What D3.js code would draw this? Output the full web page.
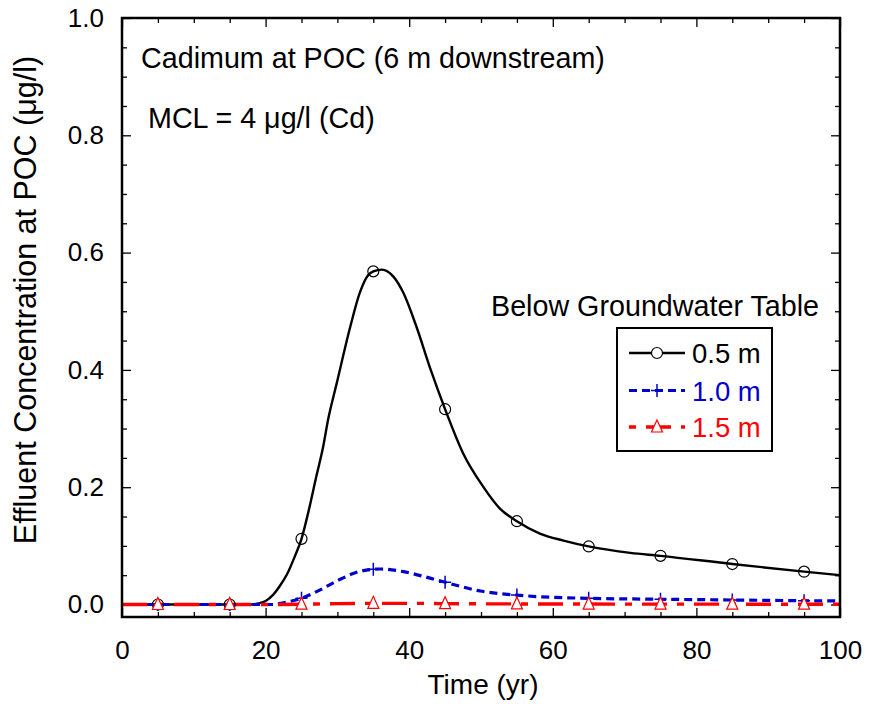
<!DOCTYPE html>
<html>
<head>
<meta charset="utf-8">
<script src="https://cdn.jsdelivr.net/npm/d3@7"></script>
<style>
  body { margin: 0; background: #fff; }
  svg text { font-family: "Liberation Sans", Arial, sans-serif; }
</style>
</head>
<body>
<svg width="869" height="706"></svg>
<script>
// curves (time in yr, concentration in ug/l)
var timeBlack = [0, 18, 19, 20, 21, 22, 23, 24, 25, 26, 27, 28, 28.7, 29.9, 31.8, 33.1, 34.3, 35, 36.2, 37.8, 39.2, 41, 43, 45, 47.5, 50.3, 52.6, 55, 58.2, 61.5, 65, 70.8, 75, 85, 95, 100];
var concBlack = [0, 0, 0.002, 0.006, 0.016, 0.032, 0.052, 0.08, 0.112, 0.16, 0.215, 0.268, 0.315, 0.377, 0.474, 0.531, 0.562, 0.568, 0.571, 0.559, 0.531, 0.474, 0.40, 0.333, 0.258, 0.201, 0.164, 0.142, 0.121, 0.109, 0.099, 0.088, 0.083, 0.069, 0.056, 0.050];

var timeBlue = [0, 21, 22.5, 25, 27.1, 30.4, 32.2, 35, 36, 39.2, 42.9, 45, 49.9, 55, 65, 75, 85, 95, 100];
var concBlue = [0, 0, 0.003, 0.0106, 0.022, 0.043, 0.053, 0.060, 0.0605, 0.056, 0.045, 0.038, 0.023, 0.016, 0.0105, 0.009, 0.0077, 0.0065, 0.006];

var timeRed = [0, 20, 25, 30, 35, 40, 45, 55, 70, 100];
var concRed = [0, 0, 0.0005, 0.0015, 0.002, 0.002, 0.0015, 0.001, 0.0007, 0.0005];

// marker points
var markTime = [5, 15, 25, 35, 45, 55, 65, 75, 85, 95];
var markBlack = [0, 0, 0.112, 0.568, 0.333, 0.142, 0.099, 0.083, 0.069, 0.056];
var markBlue = [0, 0, 0.0106, 0.060, 0.038, 0.016, 0.0105, 0.009, 0.0077, 0.0065];
var markRed = [0, 0, 0.0005, 0.002, 0.0015, 0.001, 0.0008, 0.0007, 0.0006, 0.0005];

var seriesNames = ["0.5 m", "1.0 m", "1.5 m"];
var xTicks = [0, 20, 40, 60, 80, 100];
var yTicks = [0, 0.2, 0.4, 0.6, 0.8, 1.0];

var svg = d3.select("svg");
var mLeft = 122, mRight = 840, mTop = 18, mBottom = 617;

var x = d3.scaleLinear().domain([0, 100]).range([mLeft, mRight]);
var y = d3.scaleLinear().domain([-0.0213, 1]).range([mBottom, mTop]);

var minorX = d3.range(0, 101, 5).filter(function(d) { return d % 20 != 0; });
var minorY = d3.range(0, 1.001, 0.05).filter(function(d) { return Math.abs(d * 5 - Math.round(d * 5)) > 1e-6; });

function styleAxis(g) {
  g.select(".domain").remove();
  g.selectAll(".tick line").attr("stroke", "#000").attr("stroke-width", 1.3);
  g.selectAll("text").attr("font-size", 26).attr("fill", "#000")
    .attr("font-family", "Liberation Sans, Arial, sans-serif");
}

// bottom
svg.append("g").attr("transform", "translate(0," + mBottom + ")")
  .call(d3.axisBottom(x).tickValues(xTicks).tickSize(-9).tickPadding(24).tickFormat(d3.format("d")))
  .call(styleAxis);
svg.append("g").attr("transform", "translate(0," + mBottom + ")")
  .call(d3.axisBottom(x).tickValues(minorX).tickSize(-5).tickFormat(""))
  .call(styleAxis);
// top
svg.append("g").attr("transform", "translate(0," + mTop + ")")
  .call(d3.axisTop(x).tickValues(xTicks).tickSize(-9).tickFormat(""))
  .call(styleAxis);
svg.append("g").attr("transform", "translate(0," + mTop + ")")
  .call(d3.axisTop(x).tickValues(minorX).tickSize(-5).tickFormat(""))
  .call(styleAxis);
// left
svg.append("g").attr("transform", "translate(" + mLeft + ",0)")
  .call(d3.axisLeft(y).tickValues(yTicks).tickSize(-9).tickPadding(18).tickFormat(d3.format(".1f")))
  .call(styleAxis);
svg.append("g").attr("transform", "translate(" + mLeft + ",0)")
  .call(d3.axisLeft(y).tickValues(minorY).tickSize(-5).tickFormat(""))
  .call(styleAxis);
// right
svg.append("g").attr("transform", "translate(" + mRight + ",0)")
  .call(d3.axisRight(y).tickValues(yTicks).tickSize(-9).tickFormat(""))
  .call(styleAxis);
svg.append("g").attr("transform", "translate(" + mRight + ",0)")
  .call(d3.axisRight(y).tickValues(minorY).tickSize(-5).tickFormat(""))
  .call(styleAxis);

var plot = svg.append("g");

var line = d3.line()
  .x(function(d) { return x(d[0]); })
  .y(function(d) { return y(d[1]); })
  .curve(d3.curveMonotoneX);

var series = [
  { t: timeBlack, c: concBlack, m: markBlack, color: "#000", width: 2.4, dash: null, shape: "circle" },
  { t: timeBlue, c: concBlue, m: markBlue, color: "#0000cc", width: 3.2, dash: "8,5", shape: "plus" },
  { t: timeRed, c: concRed, m: markRed, color: "#ff0000", width: 3.4, dash: "25,10,7,10", shape: "tri" }
];

function markerPath(shape) {
  if (shape == "circle") return d3.symbol().type(d3.symbolCircle).size(Math.PI * 5.5 * 5.5)();
  if (shape == "plus") return "M-6,0H6M0,-6.5V6.5";
  return "M0,-7L5.5,5L-5.5,5Z";
}

series.forEach(function(s) {
  var pts = s.t.map(function(t, i) { return [t, s.c[i]]; });
  plot.append("path").datum(pts)
    .attr("d", line)
    .attr("fill", "none")
    .attr("stroke", s.color)
    .attr("stroke-width", s.width)
    .attr("stroke-dasharray", s.dash);
});

series.forEach(function(s) {
  plot.selectAll(null)
    .data(markTime.map(function(t, i) { return [t, s.m[i]]; }))
    .enter().append("path")
    .attr("transform", function(d) { return "translate(" + x(d[0]) + "," + y(d[1]) + ")"; })
    .attr("d", markerPath(s.shape))
    .attr("fill", s.shape == "tri" ? "#fff" : "none")
    .attr("stroke", s.color)
    .attr("stroke-width", s.shape == "plus" ? 1.5 : 1.2);
});

// frame
svg.append("rect")
  .attr("x", mLeft).attr("y", mTop)
  .attr("width", mRight - mLeft).attr("height", mBottom - mTop)
  .attr("fill", "none").attr("stroke", "#000").attr("stroke-width", 2.5);

// axis titles
svg.append("text")
  .attr("x", (mLeft + mRight) / 2 + 2).attr("y", 694)
  .attr("text-anchor", "middle").attr("font-size", 28)
  .text("Time (yr)");

svg.append("text")
  .attr("transform", "translate(36,300) rotate(-90)")
  .attr("text-anchor", "middle").attr("font-size", 30.5)
  .text("Effluent Concentration at POC (\u03bcg/l)");

// annotations
svg.append("text").attr("x", 141).attr("y", 68).attr("font-size", 28.7)
  .text("Cadimum at POC (6 m downstream)");
svg.append("text").attr("x", 148).attr("y", 128).attr("font-size", 28.7)
  .text("MCL = 4 \u03bcg/l (Cd)");

// legend
svg.append("text").attr("x", 491).attr("y", 316).attr("font-size", 28.7)
  .text("Below Groundwater Table");

svg.append("rect")
  .attr("x", 617).attr("y", 328).attr("width", 155).attr("height", 123)
  .attr("fill", "#fff").attr("stroke", "#000").attr("stroke-width", 2);

var rowY = [353, 390.5, 427];
var lg = svg.append("g");
series.forEach(function(s, i) {
  lg.append("line")
    .attr("x1", 629).attr("x2", 685).attr("y1", rowY[i]).attr("y2", rowY[i])
    .attr("stroke", s.color).attr("stroke-width", s.width)
    .attr("stroke-dasharray", s.dash)
    .attr("stroke-dashoffset", s.shape == "tri" ? 35 : 0);
  lg.append("path")
    .attr("transform", "translate(657," + rowY[i] + ")")
    .attr("d", markerPath(s.shape))
    .attr("fill", s.shape == "plus" ? "none" : "#fff")
    .attr("stroke", s.color)
    .attr("stroke-width", s.shape == "plus" ? 1.5 : 1.2);
  lg.append("text")
    .attr("x", 692).attr("y", rowY[i] + 10)
    .attr("font-size", 27.5).attr("fill", s.color)
    .text(seriesNames[i]);
});
</script>
</body>
</html>
